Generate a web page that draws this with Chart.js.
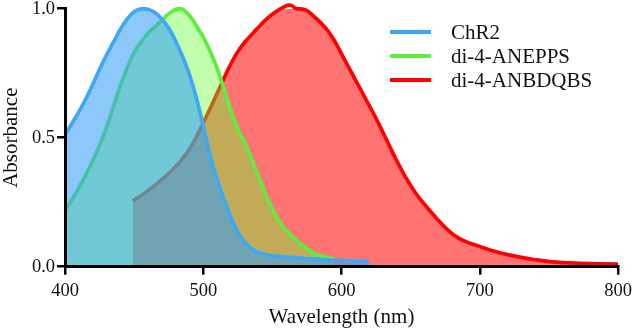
<!DOCTYPE html>
<html>
<head>
<meta charset="utf-8">
<script src="https://cdn.jsdelivr.net/npm/chart.js@4"></script>
<style>
  html, body { margin: 0; padding: 0; background: #fff; }
  #wrap { width: 633px; height: 330px; }
</style>
</head>
<body>
<div id="wrap"><canvas id="spectra"></canvas></div>
<script>
// Absorbance spectra
const seriesNames = ["ChR2", "di-4-ANEPPS", "di-4-ANBDQBS"];

const chr2Nm = [400, 405, 410, 415, 420, 425, 430, 435, 440, 445, 450, 455, 460, 465, 470, 475, 480, 485, 490, 495, 500, 505, 510, 515, 520, 525, 530, 535, 540, 547, 555, 565, 575, 590, 605, 620];
const chr2Abs = [0.51, 0.555, 0.60, 0.65, 0.705, 0.765, 0.82, 0.87, 0.92, 0.96, 0.988, 1.0, 0.998, 0.985, 0.96, 0.925, 0.875, 0.815, 0.745, 0.655, 0.545, 0.43, 0.34, 0.262, 0.19, 0.135, 0.095, 0.07, 0.055, 0.045, 0.04, 0.035, 0.031, 0.027, 0.023, 0.02];

const aneppsNm = [400, 405, 410, 415, 420, 425, 430, 435, 440, 445, 450, 455, 460, 465, 470, 475, 480, 484, 488, 492, 496, 500, 505, 510, 515, 520, 525, 530, 535, 540, 545, 550, 555, 560, 565, 570, 575, 580, 585, 590, 595];
const aneppsAbs = [0.22, 0.26, 0.305, 0.355, 0.41, 0.47, 0.54, 0.62, 0.70, 0.77, 0.83, 0.87, 0.905, 0.93, 0.955, 0.98, 0.997, 1.0, 0.985, 0.96, 0.925, 0.89, 0.835, 0.77, 0.69, 0.605, 0.535, 0.48, 0.418, 0.35, 0.283, 0.225, 0.175, 0.14, 0.115, 0.09, 0.07, 0.053, 0.042, 0.034, 0.03];

const anbdqbsNm = [449, 455, 460, 466, 472, 478, 484, 490, 495, 500, 506, 512, 518, 524, 530, 536, 542, 548, 553, 557, 561, 564, 567, 571, 575, 580, 585, 590, 595, 600, 605, 610, 615, 620, 625, 630, 635, 640, 645, 650, 655, 660, 665, 670, 675, 680, 685, 690, 695, 700, 710, 720, 730, 740, 750, 765, 780, 800];
const anbdqbsAbs = [0.255, 0.275, 0.295, 0.32, 0.347, 0.377, 0.412, 0.455, 0.503, 0.558, 0.625, 0.695, 0.765, 0.825, 0.87, 0.905, 0.94, 0.97, 0.99, 1.003, 1.013, 1.012, 1.0, 0.999, 0.993, 0.97, 0.945, 0.915, 0.875, 0.825, 0.775, 0.725, 0.675, 0.625, 0.575, 0.52, 0.465, 0.41, 0.36, 0.315, 0.275, 0.242, 0.21, 0.18, 0.152, 0.128, 0.11, 0.097, 0.087, 0.078, 0.061, 0.047, 0.036, 0.027, 0.02, 0.015, 0.012, 0.01];

const xTicks = [400, 500, 600, 700, 800];
const yTicks = [0, 0.5, 1.0];

const lineColors = ["#3ea8f6", "#5cee3c", "#ff0000"];
const fillColors = ["rgba(53,158,246,0.57)", "rgba(100,255,50,0.4)", "rgba(255,0,0,0.55)"];

const SERIF = "'Liberation Serif', 'Times New Roman', serif";
Chart.defaults.font.family = SERIF;
Chart.defaults.color = "#111";

function toPoints(xs, ys) {
  return xs.map((x, i) => ({ x: x, y: ys[i] }));
}

const allNm = [chr2Nm, aneppsNm, anbdqbsNm];
const allAbs = [chr2Abs, aneppsAbs, anbdqbsAbs];

const datasets = seriesNames.map((name, i) => ({
  label: name,
  data: toPoints(allNm[i], allAbs[i]),
  borderColor: lineColors[i],
  backgroundColor: fillColors[i],
  borderWidth: 3.7,
  fill: "origin",
  pointRadius: 0,
  tension: 0.35,
  clip: false
}));

// legend drawn inside the plot, top right
const innerLegend = {
  id: "innerLegend",
  afterDraw(chart) {
    const ctx = chart.ctx;
    ctx.save();
    ctx.font = "21px " + SERIF;
    ctx.textBaseline = "middle";
    chart.data.datasets.forEach((ds, i) => {
      const y = 32 + i * 24;
      ctx.strokeStyle = ds.borderColor;
      ctx.lineWidth = 4;
      ctx.beginPath();
      ctx.moveTo(390, y);
      ctx.lineTo(431, y);
      ctx.stroke();
      ctx.fillStyle = "#111";
      ctx.fillText(ds.label, 451, y + 1);
    });
    ctx.restore();
  }
};

new Chart(document.getElementById("spectra"), {
  type: "line",
  data: { datasets },
  plugins: [innerLegend],
  options: {
    responsive: true,
    maintainAspectRatio: false,
    animation: false,
    layout: { padding: { left: 0, right: 15, top: 8.7, bottom: 0 } },
    plugins: {
      legend: { display: false },
      tooltip: { enabled: false }
    },
    scales: {
      x: {
        type: "linear",
        min: xTicks[0],
        max: xTicks[xTicks.length - 1],
        afterBuildTicks: s => { s.ticks = xTicks.map(v => ({ value: v })); },
        afterFit: s => { s.height = 63.3; s.paddingLeft = 0; s.paddingRight = 0; },
        grid: { drawOnChartArea: false, drawTicks: true, tickLength: 8, color: "#000", lineWidth: 2.5 },
        border: { display: true, color: "#000", width: 3, z: 1 },
        ticks: { color: "#111", padding: 5, maxRotation: 0, font: { family: SERIF, size: 18.5 } },
        title: { display: true, text: "Wavelength (nm)", color: "#111", padding: { top: 0, bottom: 0 }, font: { family: SERIF, size: 21 } }
      },
      y: {
        min: yTicks[0],
        max: yTicks[yTicks.length - 1],
        afterBuildTicks: s => { s.ticks = yTicks.map(v => ({ value: v })); },
        afterFit: s => { s.width = 65; s.paddingTop = 0; s.paddingBottom = 0; },
        grid: { drawOnChartArea: false, drawTicks: true, tickLength: 8, color: "#000", lineWidth: 2.5 },
        border: { display: true, color: "#000", width: 3, z: 1 },
        ticks: { color: "#111", padding: 2, callback: v => v.toFixed(1), font: { family: SERIF, size: 18.5, lineHeight: 1 } },
        title: { display: true, text: "Absorbance", color: "#111", padding: { top: -1, bottom: 0 }, font: { family: SERIF, size: 21 } }
      }
    }
  }
});
</script>
</body>
</html>
